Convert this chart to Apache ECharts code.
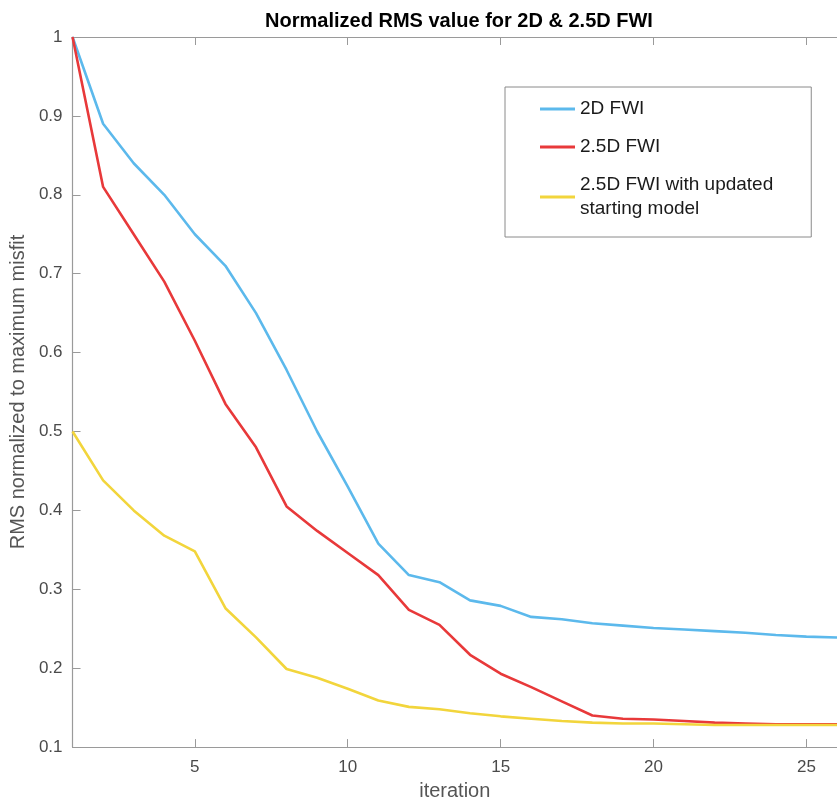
<!DOCTYPE html>
<html><head><meta charset="utf-8">
<script src="https://cdn.jsdelivr.net/npm/echarts@6/dist/echarts.min.js"></script>
<style>html,body{margin:0;padding:0;background:#fff}#c{width:837px;height:806px}</style>
</head><body><div id="c"></div>
<script>
const iterations = [1,2,3,4,5,6,7,8,9,10,11,12,13,14,15,16,17,18,19,20,21,22,23,24,25,26];
const fwi2D = [1.0,0.89,0.84,0.80,0.75,0.71,0.65,0.578,0.50,0.43,0.358,0.318,0.309,0.286,0.279,0.265,0.262,0.257,0.254,0.251,0.249,0.247,0.245,0.242,0.240,0.239];
const fwi25D = [1.0,0.81,0.75,0.69,0.615,0.535,0.48,0.405,0.374,0.346,0.318,0.274,0.255,0.217,0.193,0.176,0.158,0.140,0.136,0.135,0.133,0.131,0.130,0.129,0.129,0.129];
const fwi25DUpdated = [0.50,0.438,0.40,0.368,0.348,0.276,0.239,0.199,0.188,0.174,0.159,0.151,0.148,0.143,0.139,0.136,0.133,0.131,0.130,0.130,0.129,0.128,0.128,0.128,0.128,0.128];
const seriesNames = ['2D FWI','2.5D FWI','2.5D FWI with updated\nstarting model'];
const xTicks = [5,10,15,20,25];
const yTicks = [0.1,0.2,0.3,0.4,0.5,0.6,0.7,0.8,0.9,1];

const axisGray = '#9a9a9a';
const labelGray = '#4a4a4a';
const font = 'Liberation Sans, Arial, Helvetica, sans-serif';
const pair = arr => iterations.map((x,i)=>[x,arr[i]]);

const chart = echarts.init(document.getElementById('c'));
chart.setOption({
  animation:false,
  backgroundColor:'#fff',
  title:{text:'Normalized RMS value for 2D & 2.5D FWI',left:454,textAlign:'center',top:6,
    textStyle:{fontFamily:font,fontWeight:'bold',fontSize:20,color:'#000'}},
  grid:{left:70,top:37,right:-8,bottom:58,containLabel:false},
  legend:{
    orient:'vertical',left:505,top:87,
    padding:[10,38,16,35],
    itemWidth:35,itemHeight:3,itemGap:14,
    backgroundColor:'#fff',borderColor:'#8a8a8a',borderWidth:1,
    icon:'rect',
    textStyle:{fontFamily:font,fontSize:19,color:'#1a1a1a',lineHeight:24},
    data:seriesNames
  },
  xAxis:[{
    type:'value',min:1,max:26,position:'bottom',
    name:'iteration',nameLocation:'middle',nameGap:32,
    nameTextStyle:{fontFamily:font,fontSize:20,color:'#555'},
    axisLine:{show:true,onZero:false,lineStyle:{color:axisGray,width:1.2}},
    axisTick:{show:true,inside:true,length:8,customValues:xTicks,lineStyle:{color:axisGray}},
    axisLabel:{show:true,customValues:xTicks,margin:12,fontFamily:font,fontSize:17,color:labelGray},
    splitLine:{show:false}
  },{
    type:'value',min:1,max:26,position:'top',
    axisLine:{show:true,onZero:false,lineStyle:{color:axisGray,width:1.2}},
    axisTick:{show:true,inside:true,length:8,customValues:xTicks,lineStyle:{color:axisGray}},
    axisLabel:{show:false},splitLine:{show:false}
  }],
  yAxis:[{
    type:'value',min:0.1,max:1,
    name:'RMS normalized to maximum misfit',nameLocation:'middle',nameGap:41,
    nameTextStyle:{fontFamily:font,fontSize:20,color:'#555'},
    axisLine:{show:true,onZero:false,lineStyle:{color:axisGray,width:1.2}},
    axisTick:{show:true,inside:true,length:8,customValues:yTicks,lineStyle:{color:axisGray}},
    axisLabel:{show:true,customValues:yTicks,margin:10,fontFamily:font,fontSize:17,color:labelGray,
      formatter:v=>String(+v.toFixed(1))},
    splitLine:{show:false}
  }],
  series:[
    {name:seriesNames[0],type:'line',data:pair(fwi2D),showSymbol:false,symbol:'none',
      lineStyle:{color:'#5CB9EC',width:2.6},itemStyle:{color:'#5CB9EC'}},
    {name:seriesNames[1],type:'line',data:pair(fwi25D),showSymbol:false,symbol:'none',
      lineStyle:{color:'#E8393A',width:2.6},itemStyle:{color:'#E8393A'}},
    {name:seriesNames[2],type:'line',data:pair(fwi25DUpdated),showSymbol:false,symbol:'none',
      lineStyle:{color:'#F2D53C',width:2.6},itemStyle:{color:'#F2D53C'}}
  ]
});
</script></body></html>
